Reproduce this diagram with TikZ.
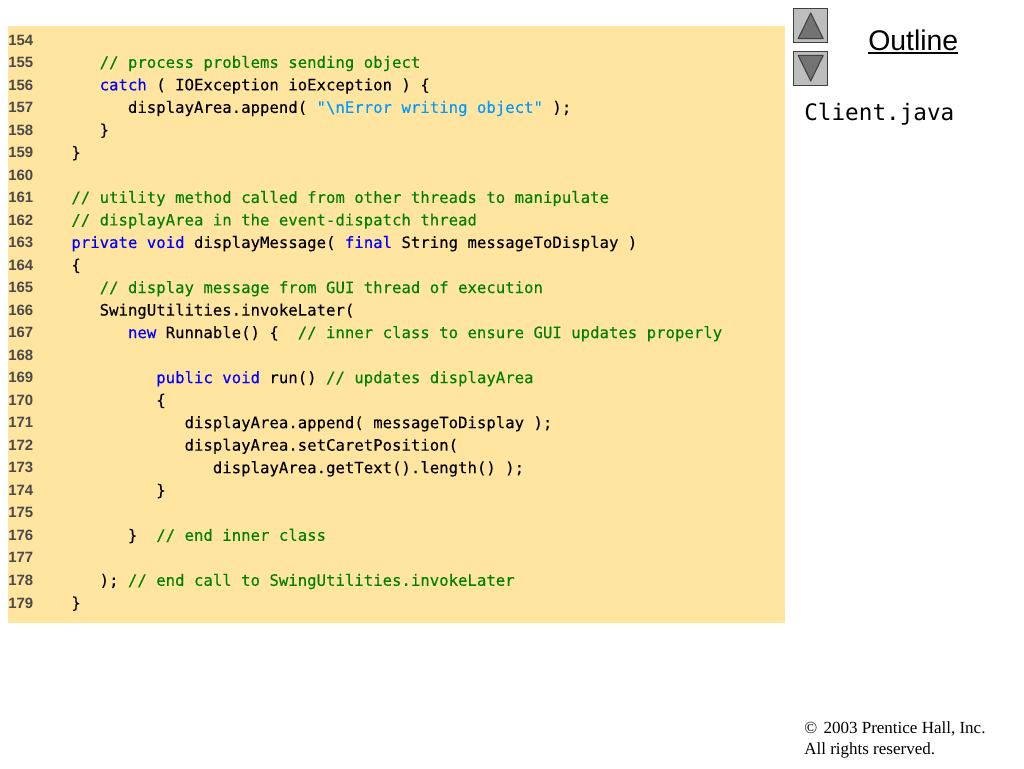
\documentclass[tikz,border=0pt]{standalone}
\usepackage{fontspec}
\setmainfont{Liberation Serif}
\newfontfamily\codefont{DejaVu Sans Mono}[FakeBold=0.12]
\newfontfamily\filefont{DejaVu Sans Mono}
\newfontfamily\numfont{Liberation Sans}
\definecolor{panelc}{HTML}{FFE5A0}
\definecolor{cmt}{HTML}{008000}
\definecolor{kw}{HTML}{0000FF}
\definecolor{str}{HTML}{0099FF}
\definecolor{numc}{HTML}{4A4A4A}
\definecolor{btnc}{HTML}{BDBDBD}
\definecolor{btnl}{HTML}{3F3F3F}
\definecolor{arrc}{HTML}{737373}
\newcommand{\cm}[1]{\textcolor{cmt}{#1}}
\newcommand{\kw}[1]{\textcolor{kw}{#1}}
\newcommand{\st}[1]{\textcolor{str}{#1}}
\newcommand{\codeline}[3]{%
  \node[lnum] (n#1) at (8,{45+22.52*(#1-154)}) {#1};
  \ifx\relax#3\relax\else
  \node[code] (c#1) at ({71.1+28.3*#2},{45.3+22.52*(#1-154)}) {#3};
  \fi}
\tikzset{
  x=0.75pt,y=-0.75pt,
  lnum/.style={anchor=base west,inner sep=0pt,text=numc,font=\numfont\bfseries\fontsize{11.2pt}{13pt}\selectfont},
  code/.style={anchor=base west,inner sep=0pt,text=black,font=\codefont\fontsize{11.75pt}{14pt}\selectfont},
  btn/.style={draw=btnl,fill=btnc,line width=0.8pt},
  tri/.style={draw=black!75,fill=arrc,line width=0.8pt,line join=round},
}
\begin{document}
\begin{tikzpicture}
\useasboundingbox (0,0) rectangle (1024,768);
\fill[white] (0,0) rectangle (1024,768);
\fill[panelc] (8,26) rectangle (785,623);
\codeline{154}{0}{}
\codeline{155}{1}{\cm{// process problems sending object}}
\codeline{156}{1}{\kw{catch} ( IOException ioException ) \{}
\codeline{157}{2}{displayArea.append( \st{"\textbackslash nError writing object"} );}
\codeline{158}{1}{\}}
\codeline{159}{0}{\}}
\codeline{160}{0}{}
\codeline{161}{0}{\cm{// utility method called from other threads to manipulate}}
\codeline{162}{0}{\cm{// displayArea in the event-dispatch thread}}
\codeline{163}{0}{\kw{private} \kw{void} displayMessage( \kw{final} String messageToDisplay )}
\codeline{164}{0}{\{}
\codeline{165}{1}{\cm{// display message from GUI thread of execution}}
\codeline{166}{1}{SwingUtilities.invokeLater(}
\codeline{167}{2}{\kw{new} Runnable() \{\ \ \cm{// inner class to ensure GUI updates properly}}
\codeline{168}{0}{}
\codeline{169}{3}{\kw{public} \kw{void} run() \cm{// updates displayArea}}
\codeline{170}{3}{\{}
\codeline{171}{4}{displayArea.append( messageToDisplay );}
\codeline{172}{4}{displayArea.setCaretPosition(}
\codeline{173}{5}{displayArea.getText().length() );}
\codeline{174}{3}{\}}
\codeline{175}{0}{}
\codeline{176}{2}{\}\ \ \cm{// end inner class}}
\codeline{177}{0}{}
\codeline{178}{1}{); \cm{// end call to SwingUtilities.invokeLater}}
\codeline{179}{0}{\}}
% buttons
\draw[btn] (793.5,8.5) rectangle (827.5,42.5);
\draw[tri] (810.7,13) -- (823.2,38.6) -- (798.2,38.6) -- cycle;
\draw[btn] (793.5,51.5) rectangle (827.5,85.5);
\draw[tri] (810.7,81) -- (823.2,55.4) -- (798.2,55.4) -- cycle;
% titles
\node[anchor=base west,inner sep=0pt,font=\numfont\fontsize{21.3pt}{25pt}\selectfont] (outline) at (868,50) {Outline};
\draw[line width=1.1pt] (868,53.2) -- (958,53.2);
\node[anchor=base west,inner sep=0pt,font=\filefont\fontsize{17pt}{20pt}\selectfont] (file) at (804,120) {Client.java};
\node[anchor=base west,inner sep=0pt,font=\fontsize{12.75pt}{14pt}\selectfont] (copy1) at (804,733) {©\kern1.6pt\ 2003 Prentice Hall, Inc.};
\node[anchor=base west,inner sep=0pt,font=\fontsize{12.75pt}{14pt}\selectfont] (copy2) at (804,754) {All rights reserved.};
\end{tikzpicture}
\end{document}
